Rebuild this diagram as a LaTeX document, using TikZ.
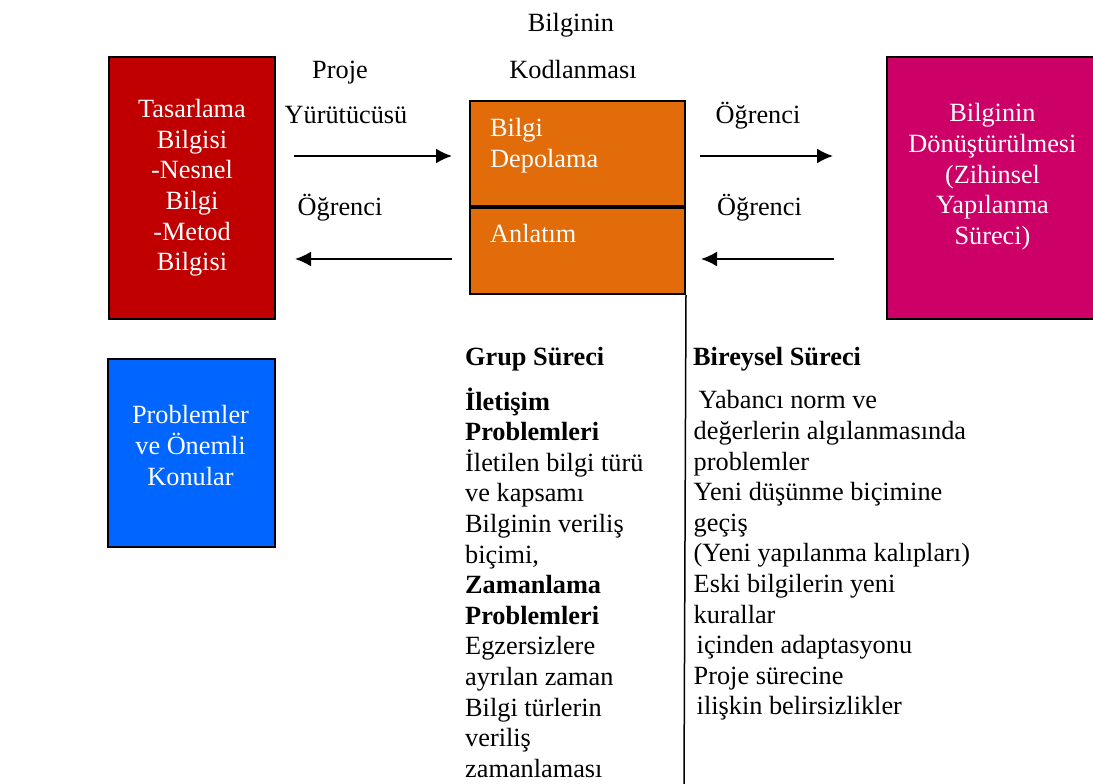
\documentclass[tikz,border=0pt]{standalone}
\usepackage{fontspec}
\setmainfont{Liberation Serif}
\usetikzlibrary{arrows.meta,positioning}
\definecolor{designred}{HTML}{C00000}
\definecolor{codeorange}{HTML}{E36C0A}
\definecolor{transfermagenta}{HTML}{CC0066}
\definecolor{problemblue}{HTML}{0066FF}

\begin{document}
\begin{tikzpicture}[x=1pt, y=-1pt, font=\fontsize{26.3}{30.6}\selectfont]
      \tikzstyle{block} = [rectangle, draw, line width=2pt, anchor=north west,
                           inner sep=0pt]
      \tikzstyle{arrow} = [draw, -{Latex[length=16pt,width=15pt]}, line width=2pt]
      \tikzstyle{word} = [inner sep=0pt]
      \useasboundingbox (0,0) rectangle (1093,784);
      \node[block, fill=designred, text=white, align=center, minimum width=166pt,
            minimum height=262pt] (design) at (108,56)
        {Tasarlama\\Bilgisi\\-Nesnel\\Bilgi\\-Metod\\Bilgisi};
      \node[block, fill=codeorange, minimum width=215pt, minimum height=105pt]
        (store) at (469,100) {};
      \node[block, fill=codeorange, minimum width=215pt, minimum height=86pt]
        (telling) at (store.south west) {};
      \node[word, align=left, text=white, below right=15.3pt and 21pt of store.north west]
        (storetext) {\strut Bilgi\\Depolama};
      \node[word, text=white, below right=14.3pt and 21pt of telling.north west]
        (tellingtext) {\strut Anlatım};
      \node[block, fill=transfermagenta, minimum width=240pt, minimum height=262pt]
        (transfer) at (886,56) {};
      \node[word, anchor=north, align=center, text=white] (transfertext) at (992.5,100.3)
        {\strut Bilginin\\Dönüştürülmesi\\(Zihinsel\\Yapılanma\\Süreci)};
      \node[block, fill=problemblue, minimum width=167pt, minimum height=188pt]
        (issues) at (107,358) {};
      \node[word, anchor=north, align=center, text=white] (issuestext) at (190.5,402.3)
        {\strut Problemler\\ve Önemli\\Konular};
      \node[word, anchor=base] (codelabA) at (571,31.7) {Bilginin};
      \node[word, anchor=base] (codelabB) at (573,78.7) {Kodlanması};
      \node[word, anchor=base] (projlabA) at (340,78.7) {Proje};
      \node[word, anchor=base] (projlabB) at (346,123.7) {Yürütücüsü};
      \node[word, anchor=base] (studlabA) at (340,215.7) {Öğrenci};
      \node[word, anchor=base] (studlabB) at (758,123.7) {Öğrenci};
      \node[word, anchor=base] (studlabC) at (759.5,215.7) {Öğrenci};
      \coordinate (toprow) at (0,156);
      \coordinate (lowrow) at (0,259);
      \path[arrow, shorten <=18pt, shorten >=17pt]
        (design.east |- toprow) -- (store.west |- toprow);
      \path[arrow, shorten <=17pt, shorten >=19pt]
        (telling.west |- lowrow) -- (design.east |- lowrow);
      \path[arrow, shorten <=14pt, shorten >=53pt]
        (store.east |- toprow) -- (transfer.west |- toprow);
      \path[arrow, shorten <=52pt, shorten >=15pt]
        (transfer.west |- lowrow) -- (telling.east |- lowrow);
      \coordinate (splitend) at (684,784);
      \draw[line width=1.5pt] (telling.south east) -- (splitend);
      \node[word, anchor=base west] (grouphead) at (465,365.7) {\bfseries Grup Süreci};
      \node[word, anchor=north west, align=left] (groupbody) at (465,387.3)
        {\strut\textbf{İletişim}\\\textbf{Problemleri}\\İletilen bilgi türü\\ve kapsamı\\
         Bilginin veriliş\\biçimi,\\\textbf{Zamanlama}\\\textbf{Problemleri}\\
         Egzersizlere\\ayrılan zaman\\Bilgi türlerin\\veriliş\\zamanlaması};
      \node[word, anchor=base west] (solohead) at (693,365.7) {\bfseries Bireysel Süreci};
      \node[word, anchor=north west, align=left] (solobody) at (693.5,387.3)
        {\strut\hspace*{5pt}Yabancı norm ve\\değerlerin algılanmasında\\problemler\\
         Yeni düşünme biçimine\\geçiş\\(Yeni yapılanma kalıpları)\\
         Eski bilgilerin yeni\\kurallar\\\hspace*{3pt}içinden adaptasyonu\\
         Proje sürecine\\\hspace*{3pt}ilişkin belirsizlikler};
    \end{tikzpicture}
\end{document}
